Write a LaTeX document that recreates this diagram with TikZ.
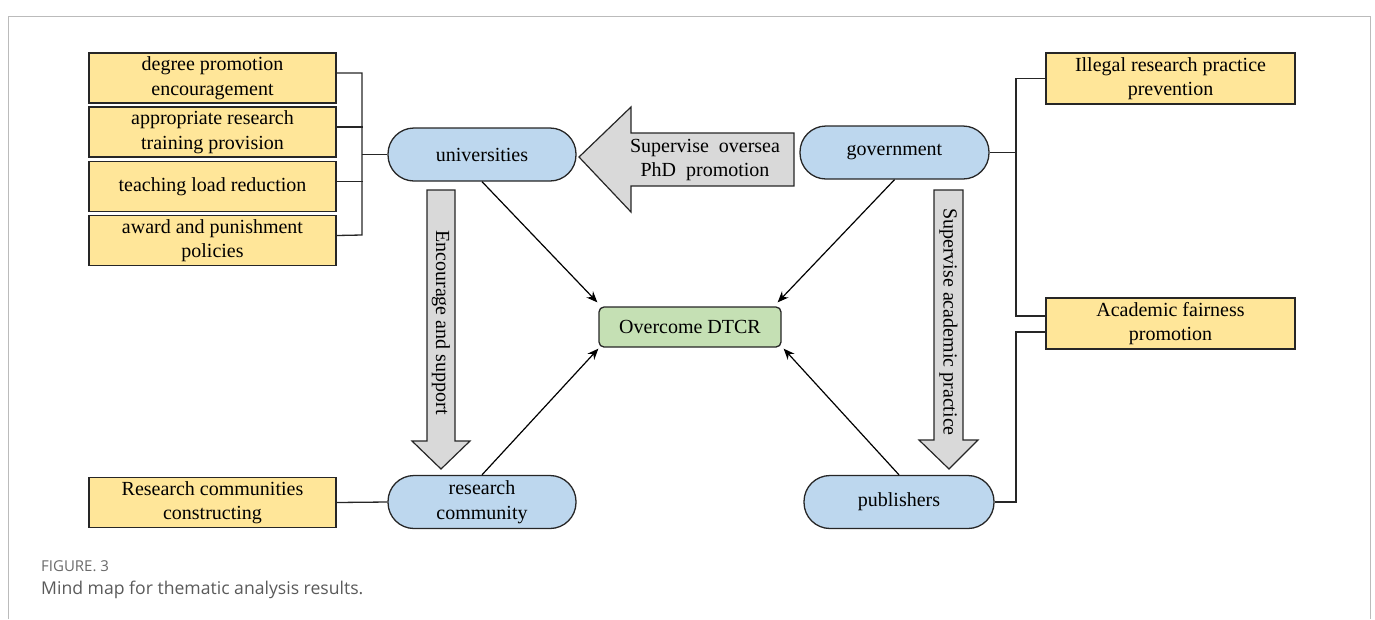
\documentclass[tikz,border=0pt]{standalone}
\usepackage{fontspec}
\setmainfont{Liberation Serif}
\newfontfamily\capfont{Open Sans}
\usetikzlibrary{calc,arrows.meta}
\definecolor{ybox}{HTML}{FFE699}
\definecolor{bbox}{HTML}{BDD7EE}
\definecolor{gbox}{HTML}{C5E0B4}
\definecolor{garrow}{HTML}{D9D9D9}
\definecolor{framec}{HTML}{BBBBBB}
\definecolor{capc}{HTML}{5A5A5A}
\definecolor{figc}{HTML}{6A6A6A}
\tikzset{
  txt/.style={font=\fontsize{20}{24.5}\selectfont},
  ybx/.style={txt, draw=black!85, line width=1.3pt, fill=ybox, minimum width=247pt, minimum height=50pt, align=center, inner sep=0pt},
  pill/.style={txt, draw=black!85, line width=1.3pt, fill=bbox, minimum width=188pt, minimum height=53pt, rounded corners=26pt, align=center, inner sep=0pt},
  goal/.style={txt, draw=black!85, line width=1.3pt, fill=gbox, minimum width=182pt, minimum height=40pt, rounded corners=5pt, align=center, inner sep=0pt},
  fat/.style={draw=black!85, line width=1.2pt, fill=garrow},
  lbl/.style={txt, align=center, inner sep=0pt},
  link/.style={draw=black!85, line width=1.3pt},
  arr/.style={draw=black, line width=1.2pt, -{Stealth[length=11pt,width=9pt]}}
}
\begin{document}
\begin{tikzpicture}[x=1pt,y=-1pt]
\useasboundingbox (0,0) rectangle (1375,619);
% frame
\draw[framec, line width=1pt] (8,619) -- (8,16) -- (1370,16) -- (1370,619);

% left boxes
\node[ybx] (b1) at (212.5,78) {degree promotion\\encouragement};
\node[ybx] (b2) at (212.5,132) {appropriate research\\training provision};
\node[ybx] (b3) at (212.5,186.5) {teaching load reduction};
\node[ybx] (b4) at (212.5,240.5) {award and punishment\\policies};
\node[ybx] (b5) at (212.5,502.5) {Research communities\\constructing};

% right boxes
\node[ybx, minimum width=249pt, minimum height=51pt] (r1) at (1170.5,78.5) {Illegal research practice\\prevention};
\node[ybx, minimum width=249pt, minimum height=51pt] (r2) at (1170.5,323.5) {Academic fairness\\promotion};

% actors
\node[pill] (uni) at (482,154.5) {universities};
\node[pill, minimum width=189pt] (gov) at (894.5,152.5) {government};
\node[pill] (rc) at (482,502) {research\\community};
\node[pill, minimum width=190pt] (pub) at (899,502) {publishers};
\node[goal] (ov) at (690,327) {Overcome DTCR};

% left bracket
\coordinate (lb1) at (362,73);
\coordinate (lb4) at (362,235);
\draw[link] ($(b1.east)+(0,-5)$) -- (lb1) -- (lb4) -- ($(b4.east)+(0,-5)$);
\draw[link] ($(b2.east)+(0,-5)$) -- ($(b2.east)+(26,-5)$);
\draw[link] ($(b3.east)+(0,-5)$) -- ($(b3.east)+(26,-5)$);
\draw[link] (uni.west) -- (uni.west -| lb1);
\draw[link] (b5.east) -- (rc.west);

% right bracket
\coordinate (rb1) at (1016,78.5);
\coordinate (rb2) at (1016,316);
\coordinate (rb3) at (1016,332);
\draw[link] (r1.west) -- (rb1) -- (rb2) -- (rb2 -| r2.west);
\draw[link] (gov.east) -- (gov.east -| rb1);
\draw[link] (pub.east) -- (pub.east -| rb3) -- (rb3) -- (rb3 -| r2.west);

% fat arrows
\draw[fat] (579,157) -- (631,107) -- (631,133) -- (794,133) -- (794,186) -- (631,186) -- (631,212) -- cycle;
\node[lbl] (t1) at (705,160) {Supervise\ \ oversea\\PhD\ \ promotion};
\draw[fat] (427,190) -- (455,190) -- (455,441) -- (470,441) -- (441,469) -- (412,441) -- (427,441) -- cycle;
\node[lbl, rotate=-90] (t2) at (441,322.5) {Encourage and support};
\draw[fat] (934,190) -- (963,190) -- (963,440) -- (978,440) -- (949,469) -- (919,440) -- (934,440) -- cycle;
\node[lbl, rotate=-90] (t3) at (948.5,322) {Supervise academic practice};

% arrows to goal
\draw[arr] (uni.south) -- ($(ov.north west)+(-1,-4)$);
\draw[arr] (gov.south) -- ($(ov.north east)+(-4,-4)$);
\draw[arr] (rc.north) -- ($(ov.south west)+(0,1)$);
\draw[arr] (pub.north) -- ($(ov.south east)+(2,1)$);

% caption
\node[anchor=west, inner sep=0pt, text=figc, font=\capfont\fontsize{15}{17}\selectfont] (fig) at (41,566) {FIGURE. 3};
\node[anchor=west, inner sep=0pt, text=capc, font=\capfont\fontsize{17.6}{20}\selectfont] (cap) at (41,590) {Mind map for thematic analysis results.};
\end{tikzpicture}
\end{document}
